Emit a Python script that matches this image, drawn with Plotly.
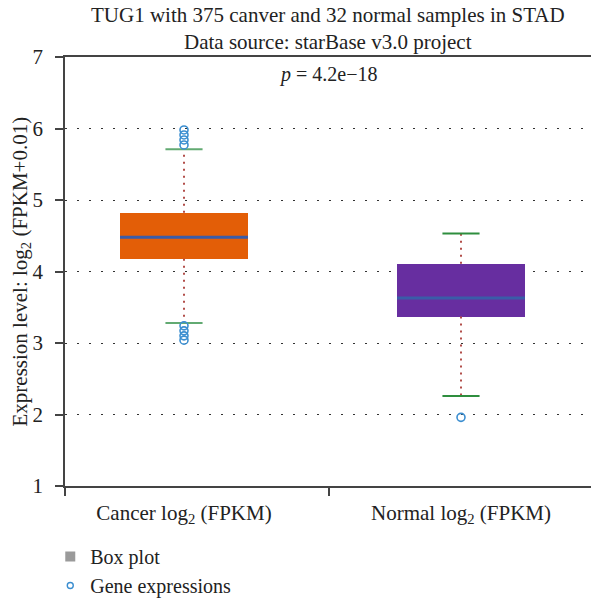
import plotly.graph_objects as go

# ---- data ----
categories = ["Cancer log<sub>2</sub> (FPKM)", "Normal log<sub>2</sub> (FPKM)"]
cat_pos = [0, 1]
q1 = [4.18, 3.37]
median = [4.48, 3.63]
q3 = [4.82, 4.11]
lower_whisker = [3.28, 2.26]
upper_whisker = [5.71, 4.53]
outliers_cancer = [5.98, 5.91, 5.84, 5.77, 3.24, 3.17, 3.10, 3.04]
outliers_normal = [1.96]
y_ticks = [1, 2, 3, 4, 5, 6, 7]
p_text = "<i>p</i> = 4.2e\u221218"
title1 = "TUG1 with 375 canver and 32 normal samples in STAD"
title2 = "Data source: starBase v3.0 project"
y_title = "Expression level: log<sub>2</sub> (FPKM+0.01)"

# ---- style ----
FONT = "Liberation Serif"
FS = 20
FS_BIG = 21
TXT = "#222222"
box_colors = ["#E35E07", "#672EA0"]
cap_colors = ["#62AA72", "#2E8E3E"]
median_color = "#3A5CA8"
whisker_color = "#B24E4A"
outlier_color = "#3B8ED0"
box_w = 0.462
cap_w = 0.134
x_range = [-0.4296, 1.4693]
x_mid_tick = 0.5235

fig = go.Figure()

for i, x in enumerate(cat_pos):
    fig.add_trace(go.Bar(x=[x], y=[q3[i] - q1[i]], base=[q1[i]], width=box_w,
                         marker=dict(color=box_colors[i], line=dict(width=0)),
                         showlegend=False, hoverinfo="skip"))
    for a, b in [(q3[i], upper_whisker[i]), (q1[i], lower_whisker[i])]:
        fig.add_trace(go.Scatter(x=[x, x], y=[a, b], mode="lines",
                                 line=dict(color=whisker_color, width=2, dash="2px,5px"),
                                 showlegend=False, hoverinfo="skip"))
    for v in [upper_whisker[i], lower_whisker[i]]:
        fig.add_trace(go.Scatter(x=[x - cap_w / 2, x + cap_w / 2], y=[v, v], mode="lines",
                                 line=dict(color=cap_colors[i], width=2),
                                 showlegend=False, hoverinfo="skip"))
    fig.add_trace(go.Scatter(x=[x - box_w / 2, x + box_w / 2], y=[median[i], median[i]],
                             mode="lines", line=dict(color=median_color, width=3),
                             showlegend=False, hoverinfo="skip"))

for x, vals in [(cat_pos[0], outliers_cancer), (cat_pos[1], outliers_normal)]:
    fig.add_trace(go.Scatter(x=[x] * len(vals), y=vals, mode="markers",
                             marker=dict(symbol="circle-open", size=8, color=outlier_color,
                                         line=dict(width=1.6, color=outlier_color)),
                             showlegend=False, hoverinfo="skip"))

fig.add_trace(go.Scatter(x=[None], y=[None], mode="markers", name="Box plot",
                         marker=dict(symbol="square", size=10, color="#9A9A9A")))
fig.add_trace(go.Scatter(x=[None], y=[None], mode="markers", name="Gene expressions",
                         marker=dict(symbol="circle-open", size=6, color=outlier_color,
                                     line=dict(width=1.4, color=outlier_color))))

fig.update_layout(
    width=591, height=601,
    margin=dict(l=65, r=0, t=57, b=115),
    paper_bgcolor="white", plot_bgcolor="white",
    font=dict(family=FONT, size=FS, color=TXT),
    bargap=0,
    showlegend=True,
    legend=dict(x=-0.028, y=(601 - 537) / 601, xanchor="left", yanchor="top",
                xref="paper", yref="container",
                orientation="v", font=dict(family=FONT, size=FS, color=TXT),
                bgcolor="rgba(0,0,0,0)", borderwidth=0, tracegroupgap=0),
    xaxis=dict(range=x_range, tickmode="array", tickvals=cat_pos, ticktext=categories,
               ticks="", showgrid=False, zeroline=False, ticklabelstandoff=7,
               showline=True, linecolor="#444444", linewidth=1.5, mirror=True,
               tickfont=dict(family=FONT, size=FS_BIG, color=TXT),
               minor=dict(tickmode="array", tickvals=[x_range[0], x_mid_tick],
                          ticks="outside", ticklen=8, tickwidth=1.5, tickcolor="#444444",
                          showgrid=False)),
    yaxis=dict(range=[1, 7], tickmode="array", tickvals=y_ticks,
               ticks="outside", ticklen=8, tickwidth=1.5, tickcolor="#444444",
               ticklabelstandoff=8,
               showgrid=True, gridcolor="#333333", gridwidth=1, griddash="2px,10px",
               zeroline=False, showline=True, linecolor="#444444", linewidth=1.5,
               mirror=False, tickfont=dict(family=FONT, size=FS_BIG, color=TXT)),
)

fig.add_annotation(text=title1, xref="paper", yref="paper", x=0.5, y=(486 - 15) / 429,
                   showarrow=False, xanchor="center", yanchor="middle",
                   font=dict(family=FONT, size=FS_BIG, color=TXT))
fig.add_annotation(text=title2, xref="paper", yref="paper", x=0.5, y=(486 - 42) / 429,
                   showarrow=False, xanchor="center", yanchor="middle",
                   font=dict(family=FONT, size=FS_BIG, color=TXT))
fig.add_annotation(text=p_text, xref="paper", yref="y", x=0.5, y=6.76,
                   showarrow=False, xanchor="center", yanchor="middle",
                   font=dict(family=FONT, size=FS, color=TXT))
fig.add_annotation(text=y_title, xref="paper", yref="paper", x=(20 - 65) / 526, y=0.5,
                   textangle=-90, showarrow=False, xanchor="center", yanchor="middle",
                   font=dict(family=FONT, size=FS_BIG, color=TXT))

fig.write_html("out.html")
